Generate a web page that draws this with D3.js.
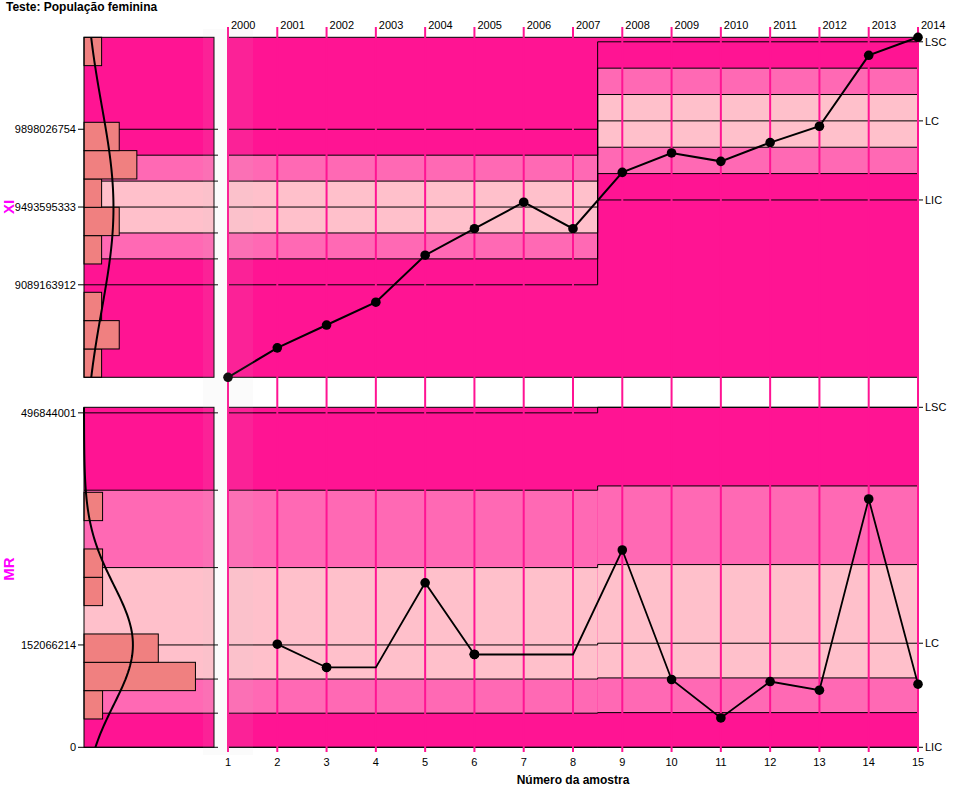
<!DOCTYPE html>
<html>
<head>
<meta charset="utf-8">
<script src="https://cdn.jsdelivr.net/npm/d3@7"></script>
<style>
  body { margin: 0; background: #fff; }
  text { font-family: "Liberation Sans", Arial, sans-serif; }
</style>
</head>
<body>
<div id="chart"></div>
<script>
// data
var samples = [1, 2, 3, 4, 5, 6, 7, 8, 9, 10, 11, 12, 13, 14, 15];
var years = ["2000", "2001", "2002", "2003", "2004", "2005", "2006", "2007",
             "2008", "2009", "2010", "2011", "2012", "2013", "2014"];
var xiValues = [8608200000, 8761400000, 8880000000, 8998600000, 9243000000,
                9380900000, 9518800000, 9380900000, 9674000000, 9774700000,
                9731100000, 9828800000, 9913600000, 10282500000, 10376200000];
var mrValues = [null, 153200000, 118600000, 118600000, 244400000, 137900000,
                137900000, 137900000, 293100000, 100700000, 43600000,
                97700000, 84800000, 368900000, 93700000];

// control limits per phase
var phaseStart = [1, 8.5];
var phaseEnd = [8.5, 15];
var xiCenter = [9493595333, 9941600000];
var xiUpper = [9898026754, 10352800000];
var xiLower = [9089163912, 9530400000];
var mrCenter = [152066214, 154600000];
var mrUpper = [496844001, 505100000];
var mrLower = [0, 0];
var limitLabels = ["LIC", "LC", "LSC"];

// histogram counts, from low to high value
var xiHist = [1, 2, 1, 0, 1, 2, 1, 3, 2, 0, 0, 1];
var mrHist = [0, 1, 6, 4, 0, 1, 1, 0, 1, 0, 0, 0];

function init() {
  var w = 959, h = 792;
  var zoneColors = ["#FF1493", "#FF69B4", "#FFC0CB"];

  var svg = d3.select("#chart").append("svg")
    .attr("width", w).attr("height", h);

  var x = d3.scaleLinear().domain([1, 15]).range([228, 918]);
  var hxXi = d3.scaleLinear().domain([0, 7.38]).range([84, 214]);
  var hxMr = d3.scaleLinear().domain([0, 7]).range([84, 214]);

  var yXi = d3.scaleLinear().domain(d3.extent(xiValues)).range([377.3, 37.3]);
  var yMr = d3.scaleLinear().domain([0, d3.max(mrUpper)]).range([747.3, 407.3]);

  function levels(c, u, l) {
    var su = (u - c) / 3, sl = (c - l) / 3;
    return [l, c - 2 * sl, c - sl, c, c + su, c + 2 * su, u];
  }

  var panels = [
    { y: yXi, values: xiValues, hist: xiHist, hx: hxXi, name: "XI",
      lv: [levels(xiCenter[0], xiUpper[0], xiLower[0]), levels(xiCenter[1], xiUpper[1], xiLower[1])],
      left: [xiUpper[0], xiCenter[0], xiLower[0]] },
    { y: yMr, values: mrValues.filter(function(d) { return d != null; }), hist: mrHist, hx: hxMr, name: "MR",
      lv: [levels(mrCenter[0], mrUpper[0], mrLower[0]), levels(mrCenter[1], mrUpper[1], mrLower[1])],
      left: [mrUpper[0], mrCenter[0], mrLower[0]] }
  ];

  panels.forEach(function(p, pi) {
    var y = p.y;
    var top = y.range()[1], bot = y.range()[0];
    var g = svg.append("g");

    // main panel background + zones
    g.append("rect").attr("x", x(1)).attr("y", top)
      .attr("width", x(15) - x(1)).attr("height", bot - top).attr("fill", zoneColors[0]);
    [0, 1].forEach(function(ph) {
      var lv = p.lv[ph];
      g.append("rect").attr("x", x(phaseStart[ph])).attr("width", x(phaseEnd[ph]) - x(phaseStart[ph]))
        .attr("y", y(lv[5])).attr("height", y(lv[1]) - y(lv[5])).attr("fill", zoneColors[1]);
      g.append("rect").attr("x", x(phaseStart[ph])).attr("width", x(phaseEnd[ph]) - x(phaseStart[ph]))
        .attr("y", y(lv[4])).attr("height", y(lv[2]) - y(lv[4])).attr("fill", zoneColors[2]);
    });

    // hist panel background + zones (phase 1)
    var lv0 = p.lv[0];
    g.append("rect").attr("x", 84).attr("y", top).attr("width", 130).attr("height", bot - top)
      .attr("fill", zoneColors[0]);
    g.append("rect").attr("x", 84).attr("width", 130)
      .attr("y", y(lv0[5])).attr("height", y(lv0[1]) - y(lv0[5])).attr("fill", zoneColors[1]);
    g.append("rect").attr("x", 84).attr("width", 130)
      .attr("y", y(lv0[4])).attr("height", y(lv0[2]) - y(lv0[4])).attr("fill", zoneColors[2]);

    // limit lines (step between phases)
    d3.range(7).forEach(function(k) {
      var y1 = y(p.lv[0][k]), y2 = y(p.lv[1][k]);
      g.append("path")
        .attr("d", "M" + x(1) + "," + y1 + "H" + x(8.5) + "V" + y2 + "H" + x(15))
        .attr("fill", "none").attr("stroke", "#000").attr("stroke-width", 1);
      g.append("line").attr("x1", 84).attr("x2", 218).attr("y1", y1).attr("y2", y1)
        .attr("stroke", "#000").attr("stroke-width", 1);
    });

    // histogram
    var dom = y.domain();
    var bw = (dom[1] - dom[0]) / p.hist.length;
    g.selectAll("rect.bar").data(p.hist).enter().append("rect")
      .attr("class", "bar")
      .attr("x", 84)
      .attr("y", function(d, i) { return y(dom[0] + (i + 1) * bw); })
      .attr("height", function(d, i) { return y(dom[0] + i * bw) - y(dom[0] + (i + 1) * bw); })
      .attr("width", function(d) { return p.hx(d) - 84; })
      .attr("fill", "#F08080")
      .attr("stroke", "#000").attr("stroke-width", 1)
      .style("display", function(d) { return d > 0 ? null : "none"; });

    // fitted normal curve
    var mean = d3.mean(p.values), sd = d3.deviation(p.values), n = p.values.length;
    var pts = d3.range(0, 101).map(function(i) {
      var v = dom[0] + (dom[1] - dom[0]) * i / 100;
      var dens = Math.exp(-0.5 * Math.pow((v - mean) / sd, 2)) / (sd * Math.sqrt(2 * Math.PI));
      return [p.hx(n * bw * dens), y(v)];
    });
    g.append("path").datum(pts).attr("d", d3.line())
      .attr("fill", "none").attr("stroke", "#000").attr("stroke-width", 2);

    // borders
    g.append("rect").attr("x", 84).attr("y", top).attr("width", 130).attr("height", bot - top)
      .attr("fill", "none").attr("stroke", "#000").attr("stroke-width", 1);
    g.append("rect").attr("x", x(1)).attr("y", top).attr("width", x(15) - x(1)).attr("height", bot - top)
      .attr("fill", "none").attr("stroke", "#000").attr("stroke-width", 1);

    // left ticks / labels
    p.left.forEach(function(v) {
      g.append("line").attr("x1", 78).attr("x2", 84).attr("y1", y(v)).attr("y2", y(v))
        .attr("stroke", "#000");
      g.append("text").attr("x", 76).attr("y", y(v)).attr("dy", "0.35em")
        .attr("text-anchor", "end").attr("font-size", "11px").text(d3.format("d")(v));
    });

    // right ticks / labels (phase 2)
    [0, 3, 6].forEach(function(k, j) {
      var yy = y(p.lv[1][k]);
      g.append("line").attr("x1", 918).attr("x2", 923).attr("y1", yy).attr("y2", yy)
        .attr("stroke", "#000");
      g.append("text").attr("x", 925).attr("y", yy).attr("dy", "0.35em")
        .attr("font-size", "11px").text(limitLabels[j]);
    });

    // panel title
    var cy = pi === 0 ? 207 : 569;
    g.append("text").attr("transform", "translate(14," + cy + ") rotate(-90)")
      .attr("text-anchor", "middle").attr("font-size", "15px").attr("font-weight", "bold")
      .attr("fill", "#FF00FF").text(p.name);
  });

  // vertical sample lines
  svg.selectAll("line.vl").data(samples).enter().append("line")
    .attr("class", "vl")
    .attr("x1", function(d) { return x(d); }).attr("x2", function(d) { return x(d); })
    .attr("y1", 27).attr("y2", 752)
    .attr("stroke", "#FF1493").attr("stroke-width", 2);

  // year labels on top
  svg.selectAll("text.yr").data(years).enter().append("text")
    .attr("class", "yr")
    .attr("x", function(d, i) { return x(samples[i]) + 3; })
    .attr("y", 29).attr("font-size", "11px").text(function(d) { return d; });

  // bottom axis labels
  svg.selectAll("text.tk").data(samples).enter().append("text")
    .attr("class", "tk")
    .attr("x", function(d) { return x(d); }).attr("y", 762).attr("dy", "0.35em")
    .attr("text-anchor", "middle").attr("font-size", "11px").text(function(d) { return d; });

  svg.append("text").attr("x", (x(1) + x(15)) / 2).attr("y", 780).attr("dy", "0.35em")
    .attr("text-anchor", "middle").attr("font-size", "12px").attr("font-weight", "bold")
    .text("Número da amostra");

  // data series
  var lineXi = d3.line().x(function(d, i) { return x(samples[i]); }).y(function(d) { return yXi(d); });
  svg.append("path").datum(xiValues).attr("d", lineXi)
    .attr("fill", "none").attr("stroke", "#000").attr("stroke-width", 2);
  svg.selectAll("circle.xi").data(xiValues).enter().append("circle")
    .attr("class", "xi")
    .attr("cx", function(d, i) { return x(samples[i]); })
    .attr("cy", function(d) { return yXi(d); })
    .attr("r", 4.8).attr("fill", "#000");

  var lineMr = d3.line()
    .defined(function(d) { return d != null; })
    .x(function(d, i) { return x(samples[i]); }).y(function(d) { return yMr(d); });
  svg.append("path").datum(mrValues).attr("d", lineMr)
    .attr("fill", "none").attr("stroke", "#000").attr("stroke-width", 1.8);
  svg.selectAll("circle.mr").data(mrValues).enter().filter(function(d) { return d != null; })
    .append("circle")
    .attr("class", "mr")
    .attr("cx", function(d) { return x(samples[mrValues.indexOf(d)]); })
    .attr("cy", function(d) { return yMr(d); })
    .attr("r", 4.8).attr("fill", "#000");

  // faint grey overlay strip
  svg.append("rect").attr("x", 203).attr("y", 29).attr("width", 50).attr("height", 726)
    .attr("fill", "#c8c8c8").attr("opacity", 0.08);

  // chart title
  svg.append("text").attr("x", 6).attr("y", 11).attr("font-size", "12px")
    .attr("font-weight", "bold").text("Teste: População feminina");
}

window.onload = init;
</script>
</body>
</html>
